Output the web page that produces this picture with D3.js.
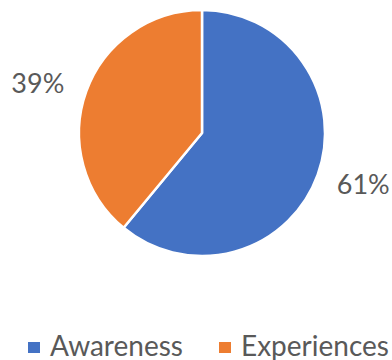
<!DOCTYPE html>
<html>
<head>
<meta charset="utf-8">
<script src="https://cdn.jsdelivr.net/npm/d3@7"></script>
<style>
  html, body { margin: 0; padding: 0; background: #fff; }
  svg { display: block; }
  text { font-family: Lato, "Open Sans", sans-serif; fill: #595959; }
</style>
</head>
<body>
<svg id="chart" width="392" height="360"></svg>
<script>
// Share of responses by category
const categories = ["Awareness", "Experiences"];
const values = [61, 39];
const colors = ["#4472C4", "#ED7D31"];

const width = 392, height = 360;
const cx = 202, cy = 133, radius = 123;

const svg = d3.select("#chart");

const pie = d3.pie().sort(null).value(d => d.value);
const data = pie(categories.map((c, i) => ({ name: c, value: values[i] })));

const arc = d3.arc().innerRadius(0).outerRadius(radius);
// Labels sit just outside the rim, at each slice's middle angle
const labelArc = d3.arc().innerRadius(radius + 17).outerRadius(radius + 17);

const color = d3.scaleOrdinal().domain(categories).range(colors);

const g = svg.append("g").attr("transform", `translate(${cx},${cy})`);

g.selectAll("path.slice")
  .data(data)
  .join("path")
  .attr("class", "slice")
  .attr("d", arc)
  .attr("fill", d => color(d.data.name))
  .attr("stroke", "#fff")
  .attr("stroke-width", 2.5)
  .attr("stroke-linejoin", "round");

g.selectAll("text.pct")
  .data(data)
  .join("text")
  .attr("class", "pct")
  .each(function (d) {
    const [x, y] = labelArc.centroid(d);
    const right = x > 0;
    d3.select(this)
      .attr("x", x + (right ? 3 : -6))
      .attr("y", y + (right ? 4 : -2))
      .attr("text-anchor", right ? "start" : "end");
  })
  .attr("dy", "0.36em")
  .style("font-size", "27px")
  .text(d => d.data.value + "%");

// Legend
const legendX = [28, 219];
const legend = svg.append("g").attr("class", "legend");
const items = legend.selectAll("g")
  .data(categories)
  .join("g")
  .attr("transform", (d, i) => `translate(${legendX[i]},342)`);

items.append("rect")
  .attr("width", 12)
  .attr("height", 11)
  .attr("fill", d => color(d));

items.append("text")
  .attr("x", 22)
  .attr("y", 13.5)
  .style("font-size", "28px")
  .text(d => d);
</script>
</body>
</html>
